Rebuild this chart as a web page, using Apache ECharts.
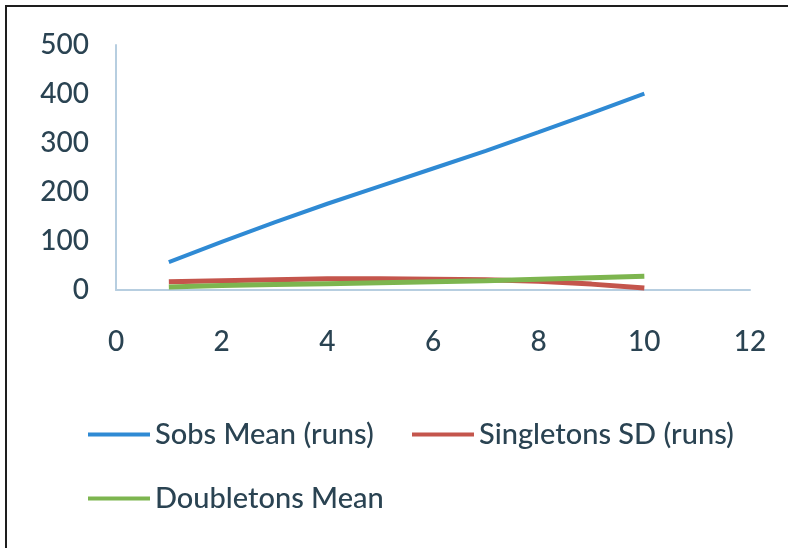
<!DOCTYPE html>
<html>
<head>
<meta charset="utf-8">
<script src="https://cdn.jsdelivr.net/npm/echarts@6/dist/echarts.min.js"></script>
<style>
  html, body { margin: 0; padding: 0; background: #fff; }
  #chart { width: 788px; height: 548px; }
</style>
</head>
<body>
<div id="chart"></div>
<script>
// Sampling runs 1..10 and the estimators per run
const runs = [1, 2, 3, 4, 5, 6, 7, 8, 9, 10];
const sobsMean = [57, 98, 138, 176, 212, 248, 284, 322, 361, 401];
const singletonsSD = [17, 19, 21, 23, 23, 22, 21, 18, 12, 4];
const doubletonsMean = [6, 9, 11, 13, 15, 17, 19, 22, 25, 28];

const seriesNames = ['Sobs Mean (runs)', 'Singletons SD (runs)', 'Doubletons Mean'];
const seriesColors = ['#2f8ad4', '#c4554c', '#7db54f'];

const labelColor = '#2a4352';
const axisColor = '#b7cee0';
const fontFamily = 'Lato, "Liberation Sans", sans-serif';

function pairs(values) {
  return runs.map((x, i) => [x, values[i]]);
}

const chart = echarts.init(document.getElementById('chart'), null, { renderer: 'canvas' });

const legendBase = {
  icon: 'rect',
  itemWidth: 62,
  itemHeight: 4,
  padding: 0,
  textStyle: { fontFamily: fontFamily, fontSize: 29, color: labelColor, fontWeight: 500 },
  selectedMode: false
};

chart.setOption({
  animation: false,
  backgroundColor: '#ffffff',
  grid: { left: 116, right: 38, top: 45, bottom: 258 },
  xAxis: {
    type: 'value',
    min: 0,
    max: 12,
    interval: 2,
    axisLine: { show: true, lineStyle: { color: axisColor, width: 2 } },
    axisTick: { show: false },
    splitLine: { show: false },
    axisLabel: { margin: 38, fontFamily: fontFamily, fontSize: 28, color: labelColor, fontWeight: 500 }
  },
  yAxis: {
    type: 'value',
    min: 0,
    max: 500,
    interval: 100,
    axisLine: { show: true, lineStyle: { color: axisColor, width: 2 } },
    axisTick: { show: false },
    splitLine: { show: false },
    axisLabel: { margin: 27, fontFamily: fontFamily, fontSize: 28, color: labelColor, fontWeight: 500 }
  },
  legend: [
    Object.assign({ data: [seriesNames[0]], left: 88, top: 420 }, legendBase),
    Object.assign({ data: [seriesNames[1]], left: 412, top: 420 }, legendBase),
    Object.assign({ data: [seriesNames[2]], left: 88, top: 484 }, legendBase)
  ],
  series: [
    {
      name: seriesNames[0], type: 'line', data: pairs(sobsMean),
      showSymbol: false, symbol: 'none', color: seriesColors[0],
      lineStyle: { width: 4, color: seriesColors[0] }
    },
    {
      name: seriesNames[1], type: 'line', data: pairs(singletonsSD),
      showSymbol: false, symbol: 'none', color: seriesColors[1],
      lineStyle: { width: 5, color: seriesColors[1] }
    },
    {
      name: seriesNames[2], type: 'line', data: pairs(doubletonsMean),
      showSymbol: false, symbol: 'none', color: seriesColors[2],
      lineStyle: { width: 5, color: seriesColors[2] }
    }
  ],
  graphic: [
    {
      type: 'polyline',
      shape: { points: [[6, 548], [6, 6], [788, 6]] },
      style: { stroke: '#1e1e1e', lineWidth: 2, fill: null },
      silent: true
    }
  ]
});
</script>
</body>
</html>
